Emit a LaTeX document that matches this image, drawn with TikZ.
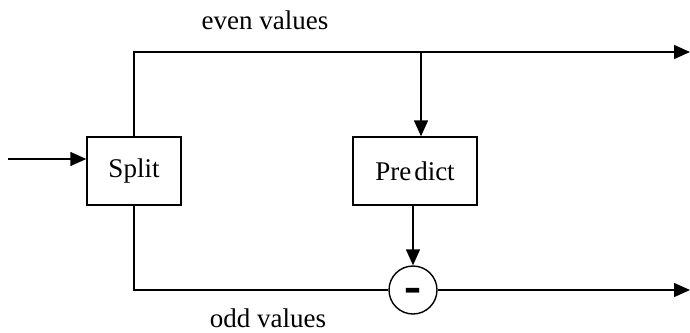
\documentclass[tikz,border=0pt]{standalone}
\usepackage{fontspec}
\setmainfont{Liberation Serif}
\usetikzlibrary{arrows.meta}
\begin{document}
\begin{tikzpicture}[x=1pt,y=-1pt,
  line width=1.4pt,
  arr/.style={-{Triangle[length=16pt,width=14pt]}},
  blk/.style={draw,rectangle,minimum width=94pt,minimum height=68pt,inner sep=0pt,font=\fontsize{27}{30}\selectfont},
  sub/.style={draw,circle,minimum size=48pt,inner sep=0pt,font=\fontsize{26}{30}\selectfont\bfseries},
  lbl/.style={font=\fontsize{27}{30}\selectfont}]
\useasboundingbox (0,0) rectangle (690,332);
\node[blk] (split) at (134,171) {Split};
\node[blk,minimum width=124pt] (pred) at (415,171) {Pre\kern3pt dict};
\node[sub] (minus) at (413,290) {\smash{\raisebox{-16pt}{\scalebox{1}[2.6]{–}}}};
\coordinate (in) at (8,159);
\coordinate (tl) at (134,52);
\coordinate (tr) at (690,52);
\coordinate (tap) at (421,52);
\coordinate (bl) at (134,290);
\coordinate (br) at (690,290);
\node[lbl] (even) at (265,20) {even values};
\node[lbl] (odd) at (268,318) {odd values};
\draw[arr] (in) -- (split.west |- in);
\draw[arr] (split.north) -- (tl) -- (tr);
\draw[arr] (tap) -- (tap |- pred.north);
\draw (split.south) -- (bl) -- (minus.west);
\draw[arr] (pred.south -| minus) -- (minus.north);
\draw[arr] (minus.east) -- (br);
\end{tikzpicture}
\end{document}
